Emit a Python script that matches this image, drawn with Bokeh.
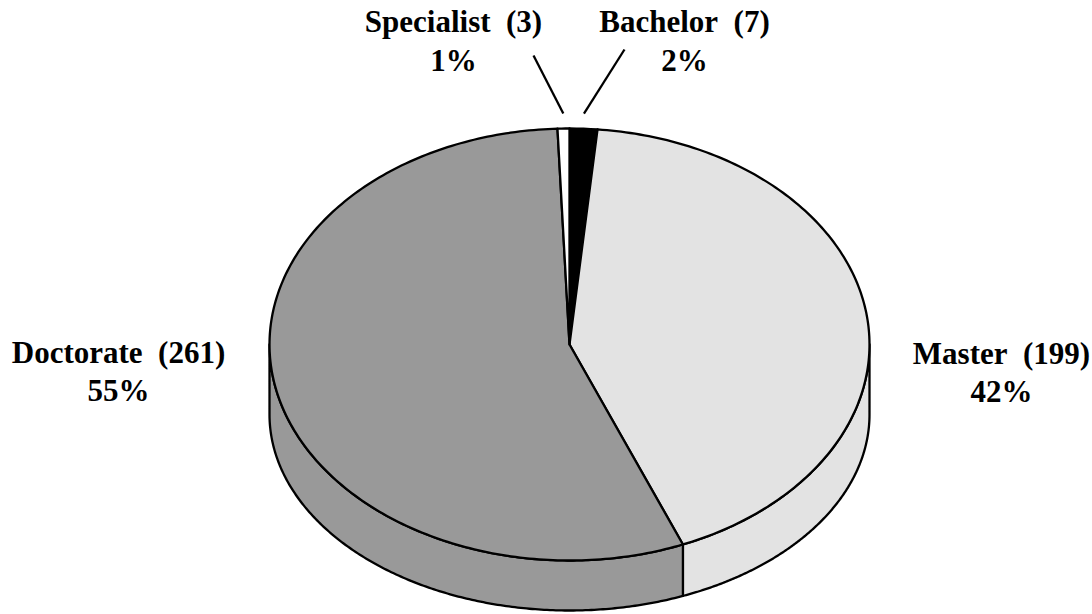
import numpy as np
from bokeh.plotting import figure
from bokeh.models import Range1d, ColumnDataSource
from bokeh.core.properties import value
from bokeh.embed import file_html
from bokeh.resources import INLINE

# ---- data (clockwise from 12 o'clock) ----
categories = ["Bachelor", "Master", "Doctorate", "Specialist"]
counts = [7, 199, 261, 3]
pct_labels = ["2%", "42%", "55%", "1%"]
colors = ["#000000", "#e3e3e3", "#999999", "#ffffff"]

# ---- layout (reference pixel coordinates) ----
W, H = 1092, 614
CX, CY_TOP, A, B_TOP = 569, 344, 300, 216
CY_BOT, B_BOT = 414, 196
TEXT_SHIFT = -11  # renderer places alphabetic text lower than requested
label_pos = {  # name center x, name baseline y, pct baseline y
    "Bachelor": (684, 32, 71),
    "Master": (1001, 364, 402),
    "Doctorate": (118, 363, 401),
    "Specialist": (453, 32, 71),
}
leader_from = {"Bachelor": (624, 49), "Specialist": (533, 55)}
FONT = "Liberation Serif"
FS = "31px"
SEP = "\u00a0 "
LW = 2.3

p = figure(width=W, height=H, output_backend="svg", toolbar_location=None,
           x_range=Range1d(0, W), y_range=Range1d(H, 0),
           min_border=0)
p.axis.visible = False
p.grid.visible = False
p.outline_line_color = None
p.background_fill_color = "white"


def top_pt(t, ra=1.0, rb=1.0):
    return CX + A * ra * np.sin(t), CY_TOP - B_TOP * rb * np.cos(t)


def bot_pt(t):
    return CX + A * np.sin(t), CY_BOT - B_BOT * np.cos(t)


total = float(sum(counts))
cum = np.concatenate([[0], np.cumsum(counts)]) / total * 2 * np.pi

# side faces (visible front half)
side_xs, side_ys, side_c = [], [], []
for i in range(len(counts)):
    lo, hi = max(cum[i], np.pi / 2), min(cum[i + 1], 3 * np.pi / 2)
    if hi <= lo:
        continue
    t = np.linspace(lo, hi, 200)
    tx, ty = top_pt(t)
    bx, by = bot_pt(t[::-1])
    side_xs.append(list(np.concatenate([tx, bx])))
    side_ys.append(list(np.concatenate([ty, by])))
    side_c.append(colors[i])
p.patches(xs="xs", ys="ys", fill_color="c", line_color="black", line_width=LW,
          line_join="round",
          source=ColumnDataSource(dict(xs=side_xs, ys=side_ys, c=side_c)))

# top faces
top_xs, top_ys = [], []
for i in range(len(counts)):
    n = max(int(400 * (cum[i + 1] - cum[i]) / (2 * np.pi)), 4)
    t = np.linspace(cum[i], cum[i + 1], n)
    tx, ty = top_pt(t)
    top_xs.append([CX] + list(tx))
    top_ys.append([CY_TOP] + list(ty))
p.patches(xs="xs", ys="ys", fill_color="c", line_color="black", line_width=LW,
          line_join="round",
          source=ColumnDataSource(dict(xs=top_xs, ys=top_ys, c=colors)))

# leader lines for small slices
x0, y0, x1, y1 = [], [], [], []
for i, c in enumerate(categories):
    if c in leader_from:
        mid = (cum[i] + cum[i + 1]) / 2
        ex, ey = top_pt(mid, 1.03, 1.07)
        x0.append(leader_from[c][0]); y0.append(leader_from[c][1])
        x1.append(ex); y1.append(ey)
p.segment(x0=x0, y0=y0, x1=x1, y1=y1, line_color="black", line_width=LW)

# labels
nx, ny, py, names = [], [], [], []
for i, c in enumerate(categories):
    lx, lny, lpy = label_pos[c]
    nx.append(lx); ny.append(lny + TEXT_SHIFT); py.append(lpy + TEXT_SHIFT)
    names.append(f"{c}{SEP}({counts[i]})")
p.text(x=nx, y=ny, text=names, text_font=value(FONT), text_font_style="bold",
       text_font_size=FS, text_align="center", text_baseline="alphabetic",
       text_color="black")
p.text(x=nx, y=py, text=pct_labels, text_font=value(FONT), text_font_style="bold",
       text_font_size=FS, text_align="center", text_baseline="alphabetic",
       text_color="black")

open("out.html", "w").write(file_html(p, INLINE))
